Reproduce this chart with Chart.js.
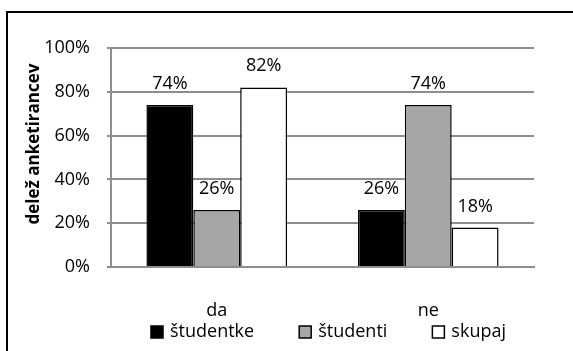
<!DOCTYPE html>
<html>
<head>
<meta charset="utf-8">
<script src="https://cdn.jsdelivr.net/npm/chart.js@4"></script>
<style>
  html, body { margin: 0; padding: 0; background: #fff; }
  #wrap { width: 573px; height: 351px; }
</style>
</head>
<body>
<div id="wrap"><canvas id="chartjs" width="573" height="351"></canvas></div>
<script>
// Podatki
const categories = ['da', 'ne'];
const seriesNames = ['študentke', 'študenti', 'skupaj'];
const studentke = [74, 26];
const studenti = [26, 74];
const skupaj = [82, 18];
const yTicks = [0, 20, 40, 60, 80, 100];
const yTitle = 'delež anketirancev';

const fontName = '"Open Sans", sans-serif';
const gridColor = '#8e8e8e';

// Okvir okoli grafa (zgoraj in levo, ostalo je odrezano) + naslov osi y
const frame = {
    id: 'frame',
    beforeDraw(chart) {
        const ctx = chart.ctx;
        ctx.save();
        ctx.fillStyle = '#fff';
        ctx.fillRect(0, 0, chart.width, chart.height);
        ctx.strokeStyle = '#000';
        ctx.lineWidth = 2;
        ctx.beginPath();
        ctx.moveTo(chart.width, 12);
        ctx.lineTo(7, 12);
        ctx.lineTo(7, chart.height);
        ctx.stroke();
        // naslov osi y
        ctx.translate(34, 144);
        ctx.rotate(-Math.PI / 2);
        ctx.font = 'bold 17px ' + fontName;
        ctx.fillStyle = '#000';
        ctx.textAlign = 'center';
        ctx.textBaseline = 'middle';
        ctx.fillText(yTitle, 0, 0);
        ctx.restore();
    }
};

// Oznake vrednosti nad stolpci
const valueLabels = {
    id: 'valueLabels',
    afterDatasetsDraw(chart) {
        const ctx = chart.ctx;
        ctx.save();
        ctx.font = '18px ' + fontName;
        ctx.fillStyle = '#000';
        ctx.textAlign = 'center';
        ctx.textBaseline = 'alphabetic';
        chart.data.datasets.forEach((ds, i) => {
            chart.getDatasetMeta(i).data.forEach((bar, j) => {
                ctx.fillText(ds.data[j] + '%', bar.x, bar.y - 16);
            });
        });
        ctx.restore();
    }
};

// Legenda spodaj (narisana ročno, da je bližje osi x)
const bottomLegend = {
    id: 'bottomLegend',
    afterDraw(chart) {
        const ctx = chart.ctx;
        const box = 12, gap = 7, cy = 332, left = 151, right = 506;
        ctx.save();
        ctx.font = '18px ' + fontName;
        const items = chart.data.datasets.map(ds => ({
            ds: ds,
            w: box + gap + ctx.measureText(ds.label).width
        }));
        let total = items.reduce((s, it) => s + it.w, 0);
        let spacing = (right - left - total) / (items.length - 1);
        let x = left;
        ctx.textAlign = 'left';
        ctx.textBaseline = 'middle';
        items.forEach(it => {
            ctx.fillStyle = it.ds.backgroundColor;
            ctx.fillRect(x, cy - box / 2, box, box);
            ctx.strokeStyle = it.ds.borderColor;
            ctx.lineWidth = 1.5;
            ctx.strokeRect(x, cy - box / 2, box, box);
            ctx.fillStyle = '#000';
            ctx.fillText(it.ds.label, x + box + gap, cy);
            x += it.w + spacing;
        });
        ctx.restore();
    }
};

let canvas = document.getElementById('chartjs');
let context = canvas.getContext('2d');

let data = {
    labels: categories,
    datasets: [
        {
            label: seriesNames[0],
            data: studentke,
            backgroundColor: '#000000',
            borderColor: '#000000',
            borderWidth: 1.5
        }, {
            label: seriesNames[1],
            data: studenti,
            backgroundColor: '#a6a6a6',
            borderColor: '#000000',
            borderWidth: 1.5
        }, {
            label: seriesNames[2],
            data: skupaj,
            backgroundColor: '#ffffff',
            borderColor: '#000000',
            borderWidth: 1.5
        }
    ]
};

let config = {
    type: 'bar',
    data: data,
    options: {
        responsive: false,
        animation: false,
        layout: {
            padding: { left: 20, right: 39, top: 48, bottom: 0 }
        },
        datasets: {
            bar: {
                barPercentage: 1,
                categoryPercentage: 0.665
            }
        },
        scales: {
            x: {
                afterFit: (scale) => { scale.height = 84; },
                grid: { display: false, drawTicks: false },
                border: { display: true, color: gridColor, width: 2 },
                ticks: {
                    padding: 33,
                    color: '#000',
                    font: { family: fontName, size: 18 }
                }
            },
            y: {
                min: 0,
                max: 100,
                afterFit: (scale) => { scale.width = 91; },
                afterBuildTicks: (scale) => {
                    scale.ticks = yTicks.map(v => ({ value: v }));
                },
                ticks: {
                    padding: 17,
                    color: '#000',
                    font: { family: fontName, size: 18 },
                    callback: (v) => v + '%'
                },
                grid: {
                    color: gridColor,
                    lineWidth: 2,
                    tickLength: 4
                },
                border: { display: true, color: gridColor, width: 2 }
            }
        },
        plugins: {
            tooltip: { enabled: false },
            legend: { display: false }
        }
    },
    plugins: [frame, valueLabels, bottomLegend]
};

let chart = new Chart(context, config);
</script>
</body>
</html>
